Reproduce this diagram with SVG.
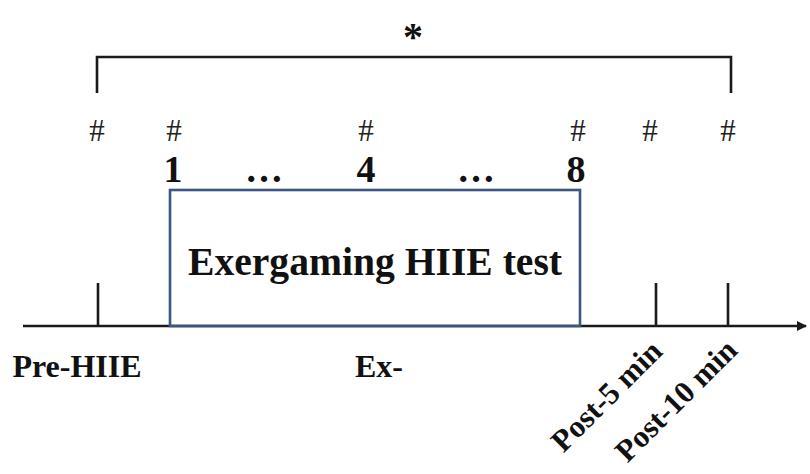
<svg xmlns="http://www.w3.org/2000/svg" width="810" height="474" viewBox="0 0 810 474">
<defs>
<style>
.t{font-family:"Liberation Serif","Times New Roman",serif;font-weight:bold;fill:#111}
.h{font-family:"Liberation Serif","Times New Roman",serif;font-size:31px;fill:#222;text-anchor:middle}
.n{font-size:38px;text-anchor:middle}
.l{font-size:32px}
.ln{stroke:#1a1a1a;stroke-width:2.6;fill:none}
</style>
<marker id="arr" viewBox="0 0 10 10" refX="9" refY="5" markerWidth="4" markerHeight="4" orient="auto" markerUnits="strokeWidth">
<path d="M0,0 L10,5 L0,10 z" fill="#1a1a1a"/>
</marker>
</defs>
<rect width="810" height="474" fill="#fff"/>
<g id="connectors">
<path class="ln" d="M97,93 V57 H731 V93"/>
<line class="ln" x1="23" y1="326" x2="806" y2="326" marker-end="url(#arr)"/>
<line class="ln" x1="98" y1="283" x2="98" y2="326"/>
<line class="ln" x1="656" y1="283" x2="656" y2="326"/>
<line class="ln" x1="728" y1="283" x2="728" y2="326"/>
</g>
<g id="star"><text class="t" x="413" y="50" font-size="40" text-anchor="middle">*</text></g>
<g id="hashes">
<text class="h" x="97" y="141">#</text>
<text class="h" x="174" y="141">#</text>
<text class="h" x="366" y="141">#</text>
<text class="h" x="578" y="141">#</text>
<text class="h" x="650" y="141">#</text>
<text class="h" x="728" y="141">#</text>
</g>
<g id="numbers">
<text class="t n" x="173" y="182">1</text>
<text class="t n" x="264" y="182" font-size="30">…</text>
<text class="t n" x="366" y="182">4</text>
<text class="t n" x="476" y="182" font-size="30">…</text>
<text class="t n" x="576" y="182">8</text>
</g>
<g id="test-box">
<rect x="170" y="190" width="410" height="136" fill="none" stroke="#3b5680" stroke-width="2.6"/>
<text class="t" x="375" y="275" font-size="39" text-anchor="middle" textLength="374" lengthAdjust="spacingAndGlyphs">Exergaming HIIE test</text>
</g>
<g id="pre-hiie"><text class="t l" x="77" y="377" text-anchor="middle">Pre-HIIE</text></g>
<g id="ex"><text class="t l" x="379" y="377" text-anchor="middle">Ex-</text></g>
<g id="post-5"><text class="t" font-size="31" x="664" y="353" text-anchor="end" transform="rotate(-45 664 353)">Post-5 min</text></g>
<g id="post-10"><text class="t" font-size="31" x="739" y="352" text-anchor="end" transform="rotate(-45 739 352)">Post-10 min</text></g>
</svg>
